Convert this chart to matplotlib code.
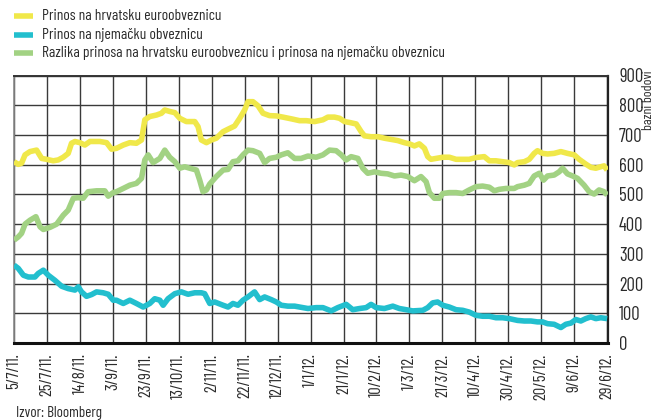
import matplotlib
matplotlib.use("Agg")
import matplotlib.pyplot as plt
from matplotlib.lines import Line2D
import pandas as pd

FONT = ['Barlow Condensed', 'DejaVu Sans']
plt.rcParams['font.family'] = FONT

start_date = "2011-07-05"
tick_labels = ["5/7/11.", "25/7/11.", "14/8/11.", "3/9/11.", "23/9/11.", "13/10/11.",
               "2/11/11.", "22/11/11.", "12/12/11.", "1/1/12.", "21/1/12.", "10/2/12.",
               "1/3/12.", "21/3/12.", "10/4/12.", "30/4/12.", "20/5/12.", "9/6/12.", "29/6/12."]
tick_step_days = 20

series_names = ["Prinos na hrvatsku euroobveznicu",
                "Prinos na njemačku obveznicu",
                "Razlika prinosa na hrvatsku euroobveznicu i prinosa na njemačku obveznicu"]

# days since 5/7/11 and values (basis points)
hr_days = [0, 2.6, 4.6, 6.7, 9.7, 13.7, 16.8, 19.8, 23.8, 26.9, 29.9, 32.9, 34.9, 37.0, 40.0,
           43.0, 46.1, 52.1, 56.2, 59.2, 62.2, 66.3, 70.3, 74.3, 77.4, 79.4, 82.4, 86.5, 89.5,
           91.5, 94.5, 97.6, 100.6, 104.6, 109.7, 111.7, 113.7, 116.8, 119.8, 122.8, 126.9,
           130.9, 133.9, 137.0, 140.0, 142.0, 145.0, 148.1, 151.1, 155.1, 159.2, 163.2, 169.3,
           173.3, 177.4, 182.4, 187.5, 190.5, 194.5, 197.6, 200.6, 203.6, 207.7, 210.7, 212.7,
           216.7, 220.8, 224.8, 228.9, 232.9, 236.9, 240.0, 243.0, 246.0, 249.1, 251.1, 253.1,
           256.1, 260.2, 264.2, 268.3, 272.3, 276.3, 280.4, 285.4, 288.5, 292.5, 296.5, 300.6,
           303.6, 305.6, 309.7, 312.7, 315.7, 317.7, 320.8, 323.8, 327.8, 331.9, 335.9, 340.0,
           343.0, 347.0, 350.1, 353.1, 356.1, 358.1, 360.0]
hr_vals = [610, 601, 605, 633, 644, 649, 621, 618, 613, 616, 625, 638, 672, 678, 674,
           666, 678, 678, 674, 652, 655, 666, 674, 672, 683, 751, 762, 767, 773,
           784, 779, 775, 756, 745, 745, 728, 683, 674, 683, 689, 711,
           722, 730, 756, 784, 812, 812, 798, 773, 765, 764, 760, 753,
           748, 748, 745, 751, 760, 760, 756, 745, 742, 737, 711, 697,
           694, 694, 689, 685, 681, 674, 670, 663, 670, 655, 627, 618,
           621, 625, 625, 618, 618, 618, 624, 627, 613, 613, 610, 607,
           599, 607, 610, 618, 638, 647, 638, 636, 638, 644, 638, 633,
           618, 602, 591, 588, 593, 596, 582]

de_days = [0, 2.6, 5.7, 8.7, 12.7, 14.7, 17.8, 20.8, 24.8, 28.9, 32.9, 37.0, 39.0, 41.0,
           44.0, 47.1, 50.1, 54.1, 57.2, 60.2, 62.2, 66.3, 70.3, 74.3, 78.4, 82.4, 85.4, 88.5,
           90.5, 93.5, 97.6, 101.6, 105.6, 109.7, 113.7, 115.7, 118.8, 121.8, 126.9, 129.9,
           132.9, 135.9, 139.0, 142.0, 146.0, 149.1, 152.1, 156.1, 159.2, 162.2, 166.2, 170.3,
           173.3, 178.4, 183.4, 187.5, 192.5, 196.5, 201.6, 205.6, 209.7, 213.7, 216.7, 219.8,
           224.8, 229.9, 233.9, 238.0, 242.0, 248.1, 251.1, 254.1, 257.1, 260.2, 264.2, 268.3,
           272.3, 276.3, 280.4, 284.4, 288.5, 292.5, 296.5, 300.6, 305.6, 309.7, 313.7, 317.7,
           320.8, 323.8, 327.8, 331.9, 334.9, 338.0, 341.0, 344.0, 347.0, 350.1, 353.1, 356.1,
           360.0]
de_vals = [262, 251, 228, 222, 222, 234, 245, 228, 211, 191, 183, 178, 189, 172,
           157, 163, 172, 169, 164, 144, 144, 133, 144, 133, 121, 133, 149, 144,
           127, 149, 166, 172, 164, 169, 169, 166, 133, 138, 127, 121,
           133, 127, 144, 155, 172, 146, 155, 146, 138, 127, 124, 124,
           121, 116, 119, 119, 108, 119, 130, 112, 116, 119, 130, 119,
           116, 124, 116, 112, 108, 110, 119, 135, 138, 127, 121, 112,
           110, 104, 93, 90, 90, 85, 85, 82, 76, 74, 74, 71,
           71, 65, 63, 52, 63, 67, 79, 74, 82, 88, 82, 85,
           82]

sp_days = [0, 2.6, 4.6, 6.7, 9.7, 13.3, 15.8, 17.8, 21.8, 25.9, 29.9, 32.9, 36.0, 39.0,
           42.0, 45.0, 50.1, 55.1, 57.2, 60.2, 62.2, 66.3, 70.3, 74.3, 77.4, 79.4, 81.4, 84.4,
           88.5, 91.5, 94.5, 97.6, 100.6, 103.6, 106.7, 110.7, 112.7, 114.7, 116.8, 118.8,
           122.8, 126.9, 129.9, 132.9, 135.9, 139.0, 142.0, 145.0, 149.1, 152.1, 155.1, 159.2,
           162.2, 166.2, 170.3, 174.3, 178.4, 183.4, 187.5, 191.5, 195.5, 198.6, 201.6, 204.6,
           208.7, 211.7, 214.7, 218.8, 222.8, 226.8, 230.9, 234.9, 239.0, 243.0, 247.0, 250.1,
           252.1, 255.1, 258.2, 260.2, 264.2, 268.3, 272.3, 276.3, 280.4, 284.4, 288.5, 291.5,
           294.5, 298.6, 303.6, 305.6, 309.7, 312.7, 315.7, 318.8, 321.4, 323.8, 327.8, 330.9,
           332.9, 335.9, 339.0, 342.0, 346.0, 349.1, 352.1, 355.1, 358.1, 360.0]
sp_vals = [346, 357, 369, 400, 413, 425, 391, 382, 389, 400, 430, 447, 487, 489,
           487, 509, 512, 512, 494, 506, 509, 520, 531, 537, 554, 616, 633, 607,
           621, 649, 625, 610, 588, 593, 588, 582, 548, 509, 515, 535,
           560, 582, 584, 610, 613, 633, 649, 647, 638, 607, 621, 625,
           633, 640, 621, 621, 629, 625, 633, 649, 647, 633, 616, 627,
           621, 588, 571, 576, 571, 569, 562, 565, 560, 546, 560, 543,
           506, 487, 487, 503, 506, 506, 503, 515, 526, 528, 524, 512,
           517, 520, 520, 526, 531, 537, 562, 571, 548, 562, 565, 576,
           588, 569, 562, 554, 531, 509, 501, 515, 509, 498]

colors = ["#F0E84A", "#22BFCE", "#A2D283"]
TXT = "#2a2a2a"

base = pd.Timestamp(start_date)
def to_dates(days):
    return base + pd.to_timedelta(days, unit="D")

W, H = 654, 420
fig = plt.figure(figsize=(W / 100, H / 100), dpi=100)
ax = fig.add_axes([14 / W, 1 - 343 / H, (608 - 14) / W, (343 - 75.5) / H])

lw = 4.0
lines = []
for d, v, c in [(hr_days, hr_vals, colors[0]), (de_days, de_vals, colors[1]),
                (sp_days, sp_vals, colors[2])]:
    ln, = ax.plot(to_dates(d), v, color=c, lw=lw, solid_joinstyle="round",
                  solid_capstyle="butt", zorder=3)
    lines.append(ln)

ticks = [base + pd.Timedelta(days=tick_step_days * i) for i in range(len(tick_labels))]
ax.set_xticks(ticks)
ax.set_xticklabels(tick_labels, rotation=90, fontsize=12, color=TXT)
ax.set_xlim(ticks[0], ticks[-1] + pd.Timedelta(days=0.5))

ax.set_ylim(0, 900)
ax.set_yticks(range(0, 901, 100))
ax.yaxis.tick_right()
ax.tick_params(axis="y", length=0, pad=8, labelsize=13.5, labelcolor=TXT)
ax.tick_params(axis="x", length=0, pad=7.5)

ax.grid(True, color="#3a3a3a", lw=1.0, zorder=1)
ax.set_axisbelow(True)
for side, (c, w) in {"left": ("#888888", 1.2), "right": ("#222222", 1.6),
                     "top": ("#333333", 1.4), "bottom": ("#111111", 2.2)}.items():
    ax.spines[side].set_color(c)
    ax.spines[side].set_linewidth(w)

# legend drawn in figure pixel positions
rows_y = [16, 34.5, 53]
leg_texts = []
for ln, name, y in zip(lines, series_names, rows_y):
    fig.add_artist(Line2D([14 / W, 33 / W], [1 - y / H, 1 - y / H], color=ln.get_color(),
                          lw=4.0, solid_capstyle="butt", transform=fig.transFigure))
    leg_texts.append(fig.text(42 / W, 1 - y / H, name, ha="left", va="center",
                              fontsize=12, color=TXT))

fig.text(648 / W, 1 - 71 / H, "bazni bodovi", rotation=90, ha="center", va="top",
         fontsize=10, color=TXT)
src = fig.text(16 / W, 1 - 413 / H, "Izvor: Bloomberg", ha="left", va="center",
               fontsize=12, color=TXT)

# fit legend / source text widths to the reference
fig.canvas.draw()
r = fig.canvas.get_renderer()
w0 = leg_texts[0].get_window_extent(r).width
s = 12 * 178 / w0
for t in leg_texts:
    t.set_fontsize(s)
w1 = src.get_window_extent(r).width
src.set_fontsize(12 * 86 / w1)

fig.savefig("out.png", dpi=100)
